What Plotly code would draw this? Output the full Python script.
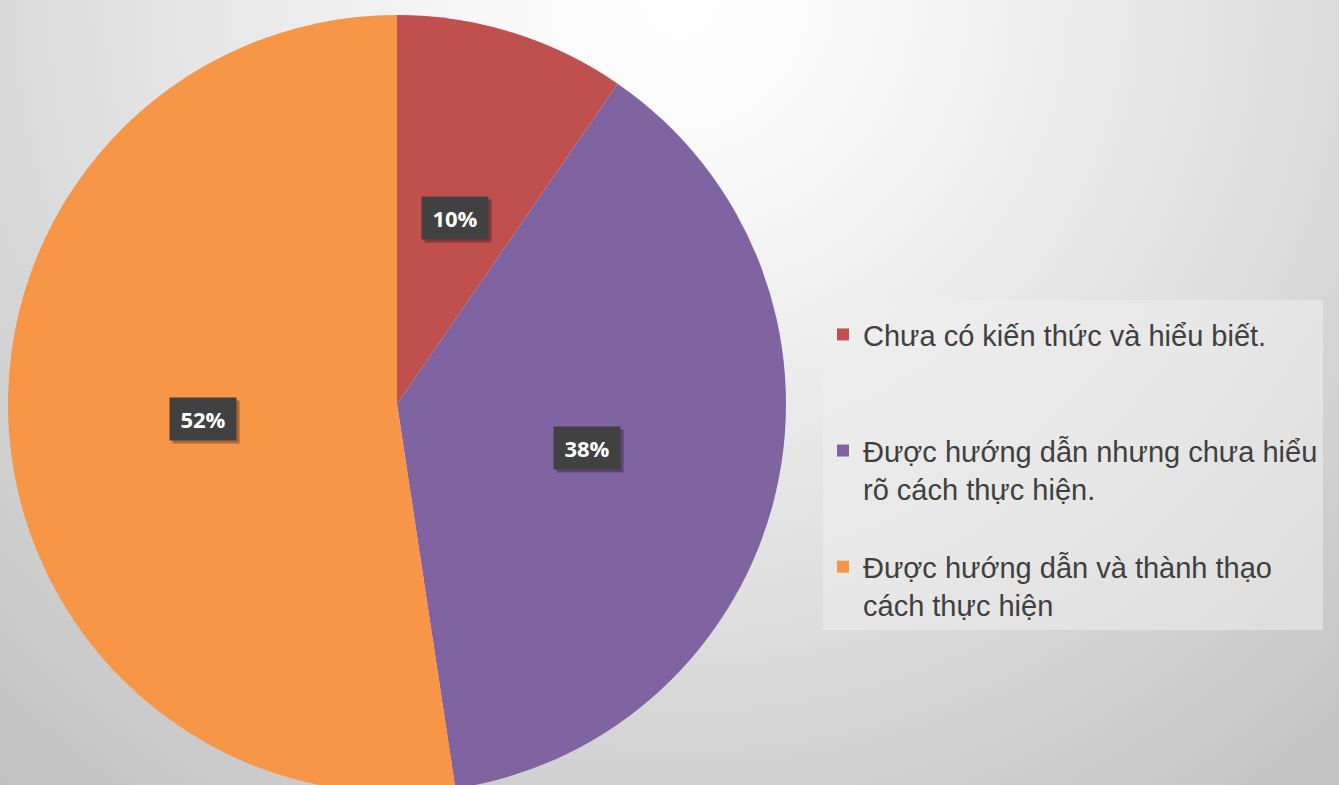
import base64
import math
import plotly.graph_objects as go

# ---- data ----
labels = [
    "Chưa có kiến thức và hiểu biết.<br> <br> ",
    "Được hướng dẫn nhưng chưa hiểu<br>rõ cách thực hiện.<br> ",
    "Được hướng dẫn và thành thạo<br>cách thực hiện",
]
values = [9.6, 38.0, 52.4]
colors = ["#C0504D", "#8064A2", "#F79646"]

W, H = 1339, 793          # figure slightly taller than the window: pie bottom is clipped
CX, CY, R = 397, 404, 389  # pie centre / radius in px (layout only)

# background radial gradient as inline SVG
svg = f'''<svg xmlns="http://www.w3.org/2000/svg" width="{W}" height="{H}" viewBox="0 0 {W} {H}">
<defs><radialGradient id="g" cx="680" cy="0" r="1050" gradientUnits="userSpaceOnUse">
<stop offset="0" stop-color="#ffffff"/><stop offset="0.2" stop-color="#f7f7f7"/>
<stop offset="0.62" stop-color="#dcdcdc"/><stop offset="0.68" stop-color="#d6d6d6"/>
<stop offset="1" stop-color="#c0c0c0"/>
</radialGradient></defs><rect width="{W}" height="{H}" fill="url(#g)"/></svg>'''
bg_src = "data:image/svg+xml;base64," + base64.b64encode(svg.encode()).decode()

fig = go.Figure()
fig.add_trace(go.Pie(
    labels=labels,
    values=values,
    marker=dict(colors=colors, line=dict(width=0)),
    sort=False,
    direction="clockwise",
    rotation=0,
    textinfo="none",
    hoverinfo="label+percent",
    domain=dict(x=[(CX - R) / W, (CX + R) / W], y=[1 - (CY + R) / H, 1 - (CY - R) / H]),
))

# data labels as boxed annotations at half radius along each slice's mid-angle
total = sum(values)
cum = 0
annotations = []
for v in values:
    mid = (cum + v / 2) / total * 2 * math.pi
    cum += v
    px = CX + 0.5 * R * math.sin(mid)
    py = CY - 0.5 * R * math.cos(mid)
    xp, yp = px / W, 1 - py / H
    txt = f"{round(v / total * 100)}%"
    common = dict(x=xp, y=yp, xref="paper", yref="paper", showarrow=False,
                  xanchor="center", yanchor="middle",
                  width=50, height=26, borderpad=8)
    annotations.append(dict(common, text="", bgcolor="rgba(0,0,0,0.3)",
                            xshift=3, yshift=-3))
    annotations.append(dict(common, text=f"<b>{txt}</b>", bgcolor="#414141",
                            font=dict(family="Open Sans", size=22, color="#ffffff")))

fig.update_layout(
    width=W, height=H,
    margin=dict(l=0, r=0, t=0, b=0),
    paper_bgcolor="#dedede",
    plot_bgcolor="rgba(0,0,0,0)",
    images=[dict(source=bg_src, xref="paper", yref="paper", x=0, y=1,
                 sizex=1, sizey=1, sizing="stretch", layer="below",
                 xanchor="left", yanchor="top")],
    showlegend=True,
    legend=dict(
        x=823 / W, y=1 - 300 / H, xanchor="left", yanchor="top",
        bgcolor="rgba(238,238,238,0.55)",
        font=dict(family="Liberation Sans, Arial", size=29, color="#404040"),
        title=dict(text=" ", font=dict(size=7)),
        valign="top",
        traceorder="normal",
    ),
    annotations=annotations,
)

fig.write_html(
    "out.html",
    config={"displayModeBar": False},
    post_script="document.body.style.margin='0';document.body.style.overflow='hidden';"
                "document.documentElement.style.overflow='hidden';",
)
